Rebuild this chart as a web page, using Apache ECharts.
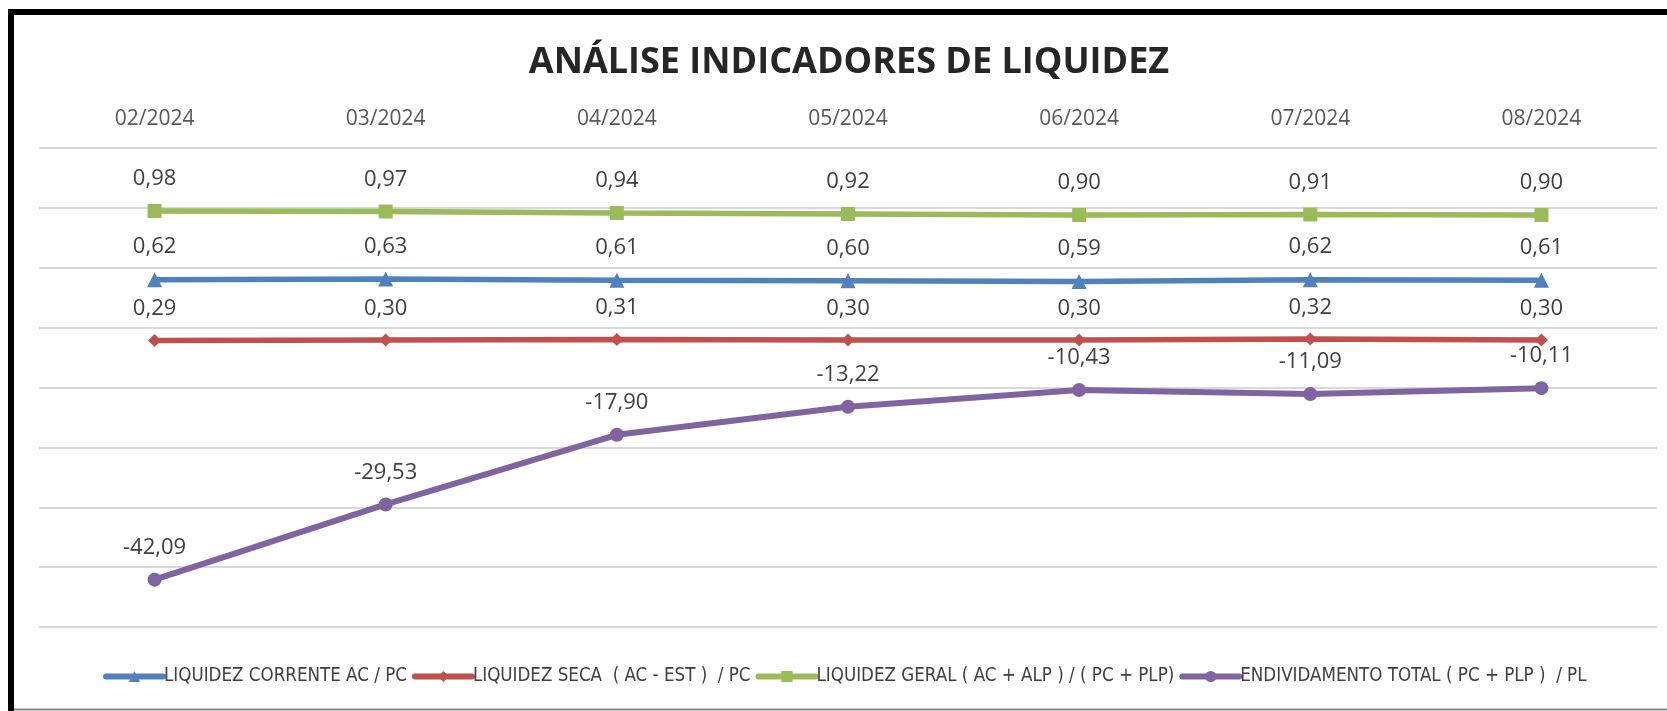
<!DOCTYPE html>
<html>
<head>
<meta charset="utf-8">
<script src="https://cdn.jsdelivr.net/npm/echarts@6/dist/echarts.min.js"></script>
<style>
html,body{margin:0;padding:0;background:#fff;}
#chart{width:1667px;height:711px;}
</style>
</head>
<body>
<div id="chart"></div>
<script>
const categories = ['02/2024','03/2024','04/2024','05/2024','06/2024','07/2024','08/2024'];
const liquidezCorrente = [0.62, 0.63, 0.61, 0.60, 0.59, 0.62, 0.61];
const liquidezSeca = [0.29, 0.30, 0.31, 0.30, 0.30, 0.32, 0.30];
const liquidezGeral = [0.98, 0.97, 0.94, 0.92, 0.90, 0.91, 0.90];
const endividamentoTotal = [-42.09, -29.53, -17.90, -13.22, -10.43, -11.09, -10.11];
const seriesNames = [
  'LIQUIDEZ CORRENTE AC / PC',
  'LIQUIDEZ SECA  ( AC - EST )  / PC',
  'LIQUIDEZ GERAL ( AC + ALP ) / ( PC + PLP)',
  'ENDIVIDAMENTO TOTAL ( PC + PLP )  / PL'
];
const titleText = 'ANÁLISE INDICADORES DE LIQUIDEZ';

const fmt = p => p.value.toFixed(2).replace('.', ',');
const labelFont = '"Open Sans", sans-serif';
function mkLabel(){
  return {show:true, position:'top', distance:14, formatter:fmt, color:'#404040',
    fontFamily:labelFont, fontSize:22, lineHeight:22};
}
function mk(name, data, color, symbol, size, yIdx, w){
  return {
    name, type:'line', data, yAxisIndex:yIdx, symbol, symbolSize:size,
    lineStyle:{color, width:w, cap:'round'}, itemStyle:{color},
    label:mkLabel(), animation:false, z: yIdx===0?2:3
  };
}
function hiddenAxis(min, max){
  return {type:'value', min, max, show:false, splitLine:{show:false}};
}

const chart = echarts.init(document.getElementById('chart'), null, {renderer:'canvas'});
chart.setOption({
  backgroundColor:'#ffffff',
  animation:false,
  graphic:[
    {type:'text', x:849, y:63, style:{text:titleText, x:0, y:0, align:'center', verticalAlign:'middle',
      font:'bold 36px "Open Sans", sans-serif', fill:'#262626'}},
    {type:'line', shape:{x1:11, y1:9, x2:11, y2:711}, style:{stroke:'#000', lineWidth:6}},
    {type:'line', shape:{x1:8, y1:12, x2:1667, y2:12}, style:{stroke:'#000', lineWidth:6}},
    {type:'line', shape:{x1:14, y1:709.5, x2:1667, y2:709.5}, style:{stroke:'#8c8c8c', lineWidth:2}}
  ],
  grid:{left:39, right:10, top:148, bottom:84},
  legend:{
    bottom:20, left:98, itemGap:5, itemWidth:57, itemHeight:14,
    lineStyle:{width:6},
    textStyle:{fontFamily:'"Liberation Sans Narrow", "DejaVu Sans Condensed", sans-serif', fontSize:18.6, color:'#404040', padding:[0,0,0,-4]},
    data:seriesNames
  },
  xAxis:{
    type:'category', data:categories, position:'top', boundaryGap:true,
    axisLine:{show:false}, axisTick:{show:false},
    axisLabel:{color:'#595959', fontFamily:labelFont, fontSize:21, margin:18}
  },
  yAxis:[
    {type:'value', min:-50, max:30, interval:10, axisLabel:{show:false}, axisLine:{show:false}, axisTick:{show:false},
      splitLine:{lineStyle:{color:'#d9d9d9', width:2}}},
    hiddenAxis(-5.169, 2.814),
    hiddenAxis(-6.079, 4.565),
    hiddenAxis(-7.34, 2.24)
  ],
  series:[
    mk(seriesNames[0], liquidezCorrente, '#4F81BD', 'triangle', 15, 1, 5.5),
    mk(seriesNames[1], liquidezSeca, '#C0504D', 'diamond', 13, 2, 5.5),
    mk(seriesNames[2], liquidezGeral, '#9BBB59', 'rect', 14, 3, 5.5),
    mk(seriesNames[3], endividamentoTotal, '#8064A2', 'circle', 14, 0, 6)
  ]
});
</script>
</body>
</html>
